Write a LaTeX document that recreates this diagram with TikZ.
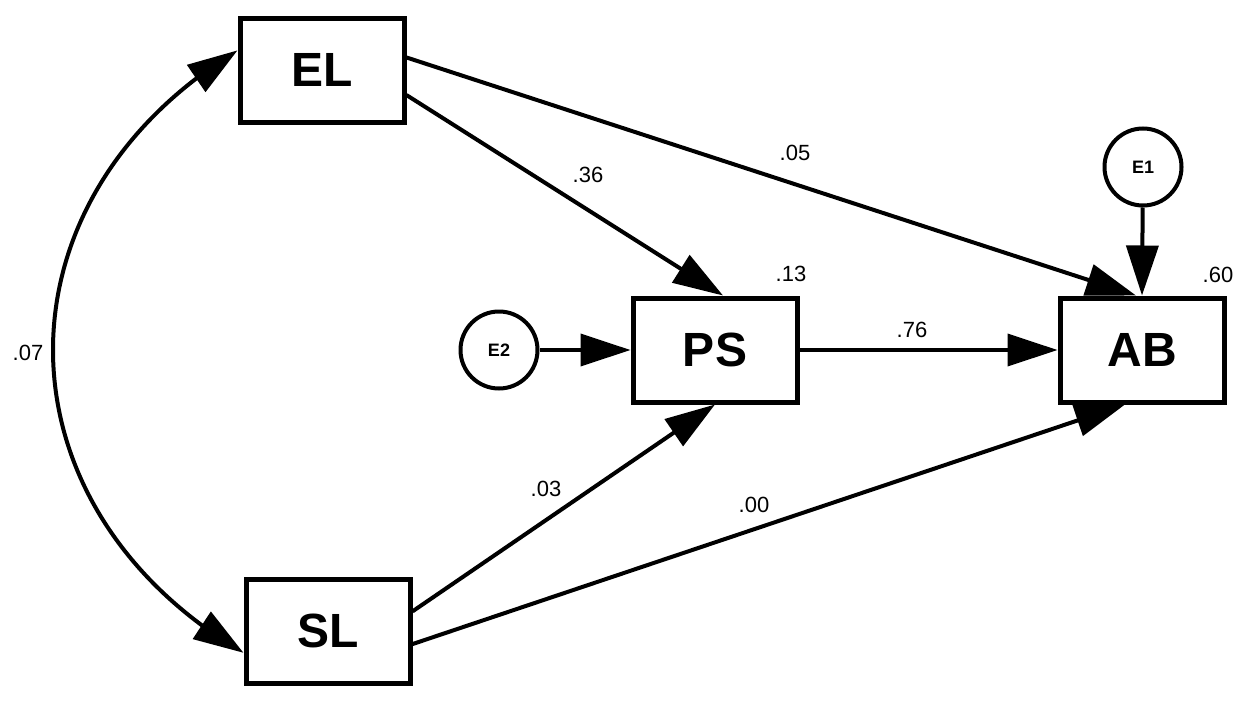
\documentclass[tikz,border=0pt]{standalone}
\usepackage{fontspec}
\setmainfont{Liberation Sans}
\usetikzlibrary{arrows.meta,calc,bending}
\begin{document}
\begin{tikzpicture}[x=1pt,y=-1pt,
  box/.style={draw,line width=5pt,minimum width=164pt,minimum height=104pt,inner sep=0pt,
    font=\fontsize{48}{48}\selectfont\bfseries},
  err/.style={draw,circle,line width=4pt,minimum size=77pt,inner sep=0pt,
    font=\fontsize{18}{18}\selectfont\bfseries},
  tip/.tip={Triangle[length=50pt,width=32pt]},
  conn/.style={line width=4pt,-tip},
  corr/.style={line width=4pt,tip-tip},
  coef/.style={font=\fontsize{22}{22}\selectfont,inner sep=0pt}]
\useasboundingbox (0,0) rectangle (1248,704);
\fill[white] (0,0) rectangle (1248,704);
% nodes
\node[box] (EL) at (322,70) {EL};
\node[box] (PS) at (715,350) {PS};
\node[box] (AB) at (1142,350) {AB};
\node[box] (SL) at (328,631) {SL};
\node[err] (E1) at (1143,167) {E1};
\node[err] (E2) at (499,350) {E2};
% anchor points
\coordinate (ELa) at ($(EL.north east)!0.385!(EL.south east)$);
\coordinate (ELb) at ($(EL.north east)!0.73!(EL.south east)$);
\coordinate (SLa) at ($(SL.north east)!0.32!(SL.south east)$);
\coordinate (SLb) at ($(SL.north east)!0.62!(SL.south east)$);
\coordinate (ELc) at ($(EL.north west)!0.32!(EL.south west)$);
\coordinate (SLc) at ($(SL.north west)!0.70!(SL.south west)$);
\coordinate (ABt) at ($(AB.north)+(-6,0)$);
\coordinate (ABb) at ($(AB.south)+(-17,0)$);
\coordinate (PSt) at ($(PS.north)+(8,0)$);
% connectors
\draw[conn] (ELa) -- (ABt);
\draw[conn] (ELb) -- (PSt);
\draw[conn] (E1) -- (AB.north);
\draw[conn] (E2) -- (PS);
\draw[conn] (PS) -- (AB);
\draw[conn] (SLa) -- (PS.south);
\draw[conn] (SLb) -- (ABb);
\draw[corr] (ELc) .. controls (-9.5,200) and (-9.5,504) .. (SLc);
% coefficients
\node[coef] (c36) at (588,175) {.36};
\node[coef] (c05) at (795,153) {.05};
\node[coef] (c13) at (791,274) {.13};
\node[coef] (c60) at (1218,275) {.60};
\node[coef] (c76) at (912,330) {.76};
\node[coef] (c03) at (546,489) {.03};
\node[coef] (c00) at (754,505) {.00};
\node[coef] (c07) at (28,353) {.07};
\end{tikzpicture}
\end{document}
